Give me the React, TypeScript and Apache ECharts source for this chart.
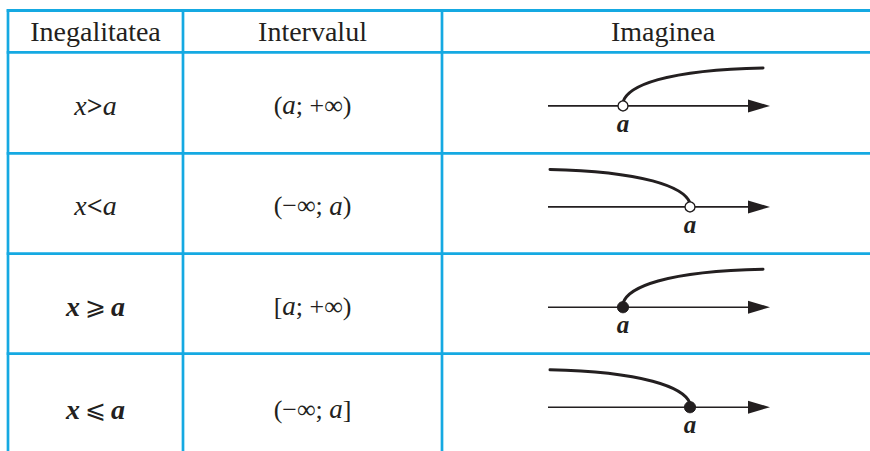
import React, { useEffect, useRef } from "react";
import * as echarts from "echarts";

// ---- table content ----
const headers = ["Inegalitatea", "Intervalul", "Imaginea"];
const variables = ["x", "x", "x", "x"];
const relations = [">", "<", "⩾", "⩽"];
const parameters = ["a", "a", "a", "a"];
const boldRows = [false, false, true, true];
const intervalOpen = ["(", "(−∞; ", "[", "(−∞; "];
const intervalClose = ["; +∞)", ")", "; +∞)", "]"];
const rayDirection = ["right", "left", "right", "left"];
const endpointIncluded = [false, false, true, true];

const FONT = "Liberation Serif";
const SYM_FONT = "DejaVu Serif";
const LINE_COLOR = "#15a9e2";
const INK = "#231f20";

export default function App() {
  const ref = useRef<HTMLDivElement>(null);

  useEffect(() => {
    if (!ref.current) return;
    const chart = echarts.init(ref.current, undefined, { renderer: "svg" });

    const colX = [8, 183, 442, 884];
    const rowY = [10.5, 52.3, 153.3, 253.6, 353.6, 460];
    const W = 870;

    const g: any[] = [];

    // grid lines
    [rowY[0], rowY[1], rowY[2], rowY[3], rowY[4]].forEach((y) => {
      g.push({
        type: "line",
        shape: { x1: colX[0] - 1.3, y1: y, x2: W + 2, y2: y },
        style: { stroke: LINE_COLOR, lineWidth: 2.8 },
      });
    });
    [colX[0], colX[1], colX[2]].forEach((x) => {
      g.push({
        type: "line",
        shape: { x1: x, y1: rowY[0] - 1.3, x2: x, y2: 460 },
        style: { stroke: LINE_COLOR, lineWidth: 2.7 },
      });
    });

    // headers
    headers.forEach((h, c) => {
      g.push({
        type: "text",
        x: (colX[c] + colX[c + 1]) / 2,
        y: 31.5,
        style: {
          text: h,
          fontFamily: FONT,
          fontSize: 28,
          fontWeight: 400,
          fill: INK,
          align: "center",
          verticalAlign: "middle",
        },
      });
    });

    for (let i = 0; i < 4; i++) {
      const top = rowY[i + 1];
      const bottom = rowY[i + 2];
      const cy = (top + bottom) / 2 + 2.5;
      const bold = boldRows[i];
      const gap = bold ? "\u2009" : "";

      // inequality
      g.push({
        type: "text",
        x: (colX[0] + colX[1]) / 2,
        y: cy,
        style: {
          text: `{i|${variables[i]}}{o|${gap}${relations[i]}${gap}}{i|${parameters[i]}}`,
          align: "center",
          verticalAlign: "middle",
          fill: INK,
          fontFamily: FONT,
          fontSize: 28,
          rich: {
            i: {
              fontFamily: FONT,
              fontStyle: "italic",
              fontWeight: bold ? 700 : 400,
              fontSize: 28,
              fill: INK,
            },
            o: {
              fontFamily: bold ? SYM_FONT : FONT,
              fontWeight: bold ? 400 : 700,
              fontSize: bold ? 25 : 28,
              fill: INK,
            },
          },
        },
      });

      // interval
      g.push({
        type: "text",
        x: (colX[1] + colX[2]) / 2,
        y: cy,
        style: {
          text: `{n|${intervalOpen[i]}}{i|${parameters[i]}}{n|${intervalClose[i]}}`,
          align: "center",
          verticalAlign: "middle",
          fill: INK,
          fontFamily: FONT,
          fontSize: 26,
          rich: {
            n: { fontFamily: FONT, fontSize: 26, fill: INK },
            i: { fontFamily: FONT, fontStyle: "italic", fontSize: 27, fill: INK },
          },
        },
      });

      // image: number line with ray
      const axisY = top + 53.6;
      const right = rayDirection[i] === "right";
      const dx = right ? 623 : 690;
      const curve = right
        ? { x1: dx, y1: axisY - 4, cpx1: dx + 5, cpy1: axisY - 20, cpx2: dx + 42, cpy2: axisY - 36, x2: dx + 140, y2: axisY - 38 }
        : { x1: dx - 140, y1: axisY - 37.5, cpx1: dx - 47, cpy1: axisY - 35.5, cpx2: dx - 6, cpy2: axisY - 20, x2: dx, y2: axisY - 4 };
      g.push({
        type: "bezierCurve",
        shape: curve,
        style: { stroke: INK, lineWidth: 3, fill: null, lineCap: "round" },
      });
      g.push({
        type: "line",
        shape: { x1: 548, y1: axisY, x2: 752, y2: axisY },
        style: { stroke: INK, lineWidth: 1.6 },
      });
      g.push({
        type: "polygon",
        shape: { points: [[748, axisY - 6.5], [770, axisY], [748, axisY + 6.5]] },
        style: { fill: INK },
      });
      g.push({
        type: "circle",
        shape: { cx: dx, cy: axisY, r: endpointIncluded[i] ? 5.6 : 5 },
        style: endpointIncluded[i]
          ? { fill: INK, stroke: INK, lineWidth: 1 }
          : { fill: "#ffffff", stroke: INK, lineWidth: 1.4 },
      });
      g.push({
        type: "text",
        x: dx,
        y: axisY + 17.5,
        style: {
          text: parameters[i],
          fontFamily: FONT,
          fontStyle: "italic",
          fontWeight: 700,
          fontSize: 25,
          fill: INK,
          align: "center",
          verticalAlign: "middle",
        },
      });
    }

    chart.setOption({
      animation: false,
      backgroundColor: "#ffffff",
      graphic: { elements: g },
    });

    return () => chart.dispose();
  }, []);

  return (
    <div
      ref={ref}
      style={{ position: "fixed", left: 0, top: 0, width: 870, height: 451 }}
    />
  );
}
